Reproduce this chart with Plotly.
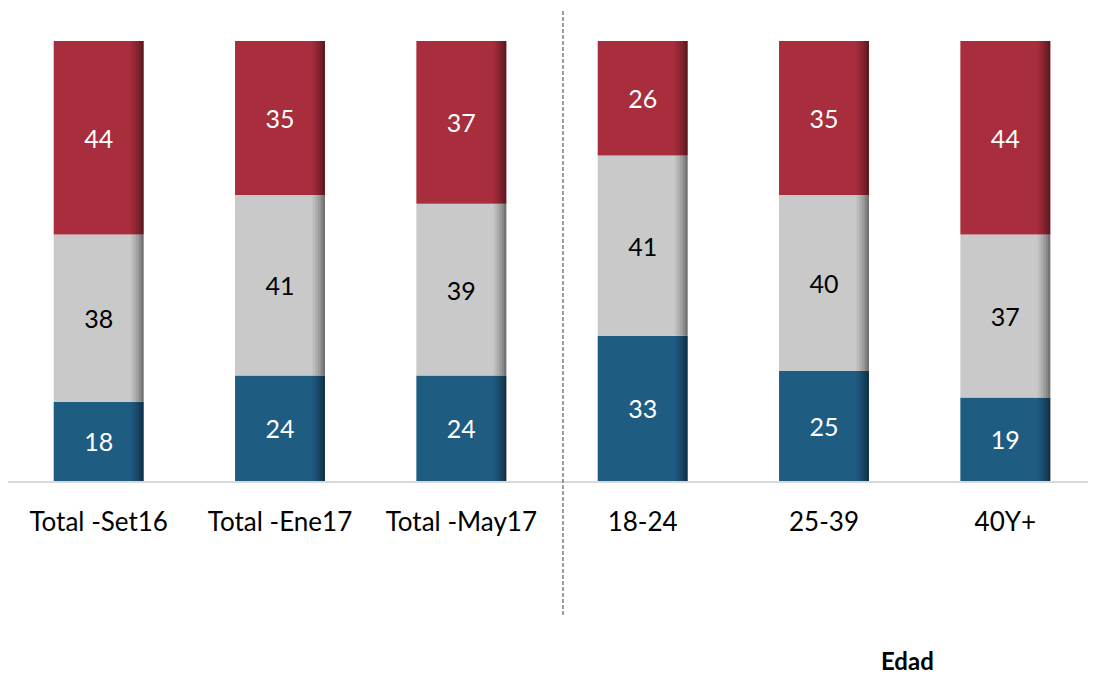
import plotly.graph_objects as go

categories = ["Total -Set16", "Total -Ene17", "Total -May17", "18-24", "25-39", "40Y+"]
blue_vals = [18, 24, 24, 33, 25, 19]
gray_vals = [38, 41, 39, 41, 40, 37]
red_vals = [44, 35, 37, 26, 35, 44]
group_label = "Edad"

series = [
    (blue_vals, "#1F5C82", "white"),
    (gray_vals, "#C9C9C9", "black"),
    (red_vals, "#A82D3D", "white"),
]

FONT = "Lato, Open Sans, sans-serif"
BAR_W = 0.496
fig = go.Figure()
base = [0] * len(categories)
for vals, col, tcol in series:
    fig.add_trace(go.Bar(
        x=categories, y=vals, base=list(base), width=BAR_W,
        marker=dict(color=col, line=dict(width=0)),
        text=[str(v) for v in vals], textposition="inside",
        insidetextanchor="middle", textangle=0, constraintext="none",
        textfont=dict(color=tcol, size=25, family=FONT),
        showlegend=False, hoverinfo="skip",
    ))
    # darker right-edge shading (soft gradient)
    for w, op in [(0.07, 0.06), (0.055, 0.08), (0.04, 0.10), (0.025, 0.13), (0.012, 0.16)]:
        fig.add_trace(go.Bar(
            x=categories, y=vals, base=list(base), width=w, offset=BAR_W / 2 - w,
            marker=dict(color="black", opacity=op, line=dict(width=0)),
            showlegend=False, hoverinfo="skip",
        ))
    base = [b + v for b, v in zip(base, vals)]

# page body has an 8px margin; figure occupies page from (8,8)
W, H = 1088, 668
ml, mr, mt, mb = 0, 0, 33, 195
fig.update_layout(
    width=W, height=H, barmode="overlay",
    margin=dict(l=ml, r=mr, t=mt, b=mb),
    paper_bgcolor="white", plot_bgcolor="white",
    font=dict(family=FONT, size=25, color="black"),
    xaxis=dict(showline=True, linecolor="#D9D9D9", linewidth=2, showgrid=False,
               ticks="", tickfont=dict(size=26, family=FONT), ticklabelstandoff=17),
    yaxis=dict(range=[0, 100], visible=False),
)
ph = H - mt - mb
pw = W - ml - mr
xs = (563 - 8 - ml) / pw
fig.add_shape(type="line", xref="paper", yref="paper",
              x0=xs, x1=xs, y0=(H - mb - (615 - 8)) / ph, y1=(H - mb - (8 - 8 + 1)) / ph,
              line=dict(color="#5F5F5F", width=1.2, dash="4px,2px"))
fig.add_annotation(text="<b>" + group_label + "</b>", xref="paper", yref="paper",
                   x=(907 - 8 - ml) / pw, y=(H - mb - (660 - 8)) / ph,
                   xanchor="center", yanchor="middle",
                   showarrow=False, font=dict(size=24, color="black", family=FONT))
fig.write_html("out.html")
